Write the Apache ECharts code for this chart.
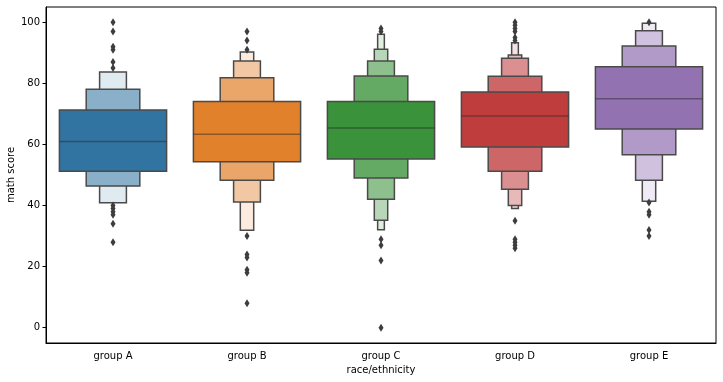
<!DOCTYPE html>
<html>
<head>
<meta charset="utf-8">
<script src="https://cdn.jsdelivr.net/npm/echarts@6/dist/echarts.min.js"></script>
<style>
html,body{margin:0;padding:0;background:#fff;}
#chart{width:723px;height:382px;}
</style>
</head>
<body>
<div id="chart"></div>
<script>
// ---- data (letter-value / boxen plot) ----
const categories = ['group A', 'group B', 'group C', 'group D', 'group E'];
const medians = [61, 63.3, 65.4, 69.3, 75];

// letter-value box bounds, innermost level first
const lowerA = [51.2, 46.4, 40.9];
const upperA = [71.3, 78.1, 83.7];
const lowerB = [54.3, 48.3, 41.2, 31.9];
const upperB = [74.1, 81.8, 87.3, 90.3];
const lowerC = [55.2, 49.0, 42.1, 35.2, 32.1];
const upperC = [74.1, 82.4, 87.3, 91.2, 96.1];
const lowerD = [59.2, 51.2, 45.3, 40.0, 39.0];
const upperD = [77.2, 82.3, 88.2, 89.3, 93.3];
const lowerE = [65.1, 56.6, 48.3, 41.4];
const upperE = [85.4, 92.2, 97.2, 99.7];

const outliersA = [100, 97, 92, 91, 87, 85, 40, 39, 38, 37, 34, 28];
const outliersB = [97, 94, 91, 30, 24, 23, 19, 18, 8];
const outliersC = [98, 97, 29, 27, 22, 0];
const outliersD = [100, 99, 98, 97, 95, 94, 35, 29, 28, 27, 26];
const outliersE = [100, 41, 38, 37, 32, 30];

const yTicks = [0, 20, 40, 60, 80, 100];

// ---- styling ----
const baseColors = ['#3274a1', '#e1812c', '#3a923a', '#c03d3e', '#9372b2'];
const edgeColor = '#4a4a4a';

const lowers = [lowerA, lowerB, lowerC, lowerD, lowerE];
const uppers = [upperA, upperB, upperC, upperD, upperE];
const outliers = [outliersA, outliersB, outliersC, outliersD, outliersE];

function hexToRgb(h) {
  return [parseInt(h.slice(1, 3), 16), parseInt(h.slice(3, 5), 16), parseInt(h.slice(5, 7), 16)];
}
function levelColor(gi, k, n) {
  const t = n > 1 ? 0.85 * k / (n - 1) : 0;
  const c = hexToRgb(baseColors[gi]);
  const m = c.map(v => Math.round(v + (255 - v) * t));
  return 'rgb(' + m.join(',') + ')';
}

// boxes: outermost drawn first so inner (wider) boxes sit on top
const boxData = [];
for (let g = 0; g < categories.length; g++) {
  const n = lowers[g].length;
  for (let k = n - 1; k >= 0; k--) {
    boxData.push([g, lowers[g][k], uppers[g][k], k, n]);
  }
}
const medianData = medians.map((m, g) => [g, m]);
const outlierData = [];
outliers.forEach((arr, g) => arr.forEach(v => outlierData.push([g, v])));

const chart = echarts.init(document.getElementById('chart'), null, { renderer: 'canvas' });

const option = {
  animation: false,
  backgroundColor: '#fff',
  textStyle: { fontFamily: 'DejaVu Sans', fontSize: 10, color: '#000' },
  grid: {
    left: 46, right: 7, top: 7, bottom: 39,
    containLabel: false,
    outerBoundsMode: 'none',
    show: true, borderColor: '#000', borderWidth: 1, backgroundColor: 'transparent'
  },
  xAxis: {
    type: 'category',
    data: categories,
    boundaryGap: true,
    name: 'race/ethnicity',
    nameLocation: 'middle',
    nameGap: 22,
    nameMoveOverlap: false,
    nameTextStyle: { fontFamily: 'DejaVu Sans', fontSize: 10, color: '#000' },
    axisLine: { onZero: false, lineStyle: { color: '#000', width: 1 } },
    axisTick: { alignWithLabel: true, length: 3.5, lineStyle: { color: '#000', width: 1 } },
    axisLabel: { margin: 8.5, fontFamily: 'DejaVu Sans', fontSize: 10, color: '#000' },
    splitLine: { show: false }
  },
  yAxis: {
    type: 'value',
    min: -5,
    max: 105,
    name: 'math score',
    nameLocation: 'middle',
    nameRotate: 90,
    nameGap: 30,
    nameMoveOverlap: false,
    nameTextStyle: { fontFamily: 'DejaVu Sans', fontSize: 10, color: '#000' },
    axisLine: { show: true, onZero: false, lineStyle: { color: '#000', width: 1 } },
    axisTick: { show: true, length: 3.5, customValues: yTicks, lineStyle: { color: '#000', width: 1 } },
    axisLabel: { margin: 6, customValues: yTicks, fontFamily: 'DejaVu Sans', fontSize: 10, color: '#000' },
    splitLine: { show: false }
  },
  series: [
    {
      type: 'custom',
      data: boxData,
      z: 2,
      renderItem: function (params, api) {
        const g = api.value(0);
        const lo = api.value(1);
        const hi = api.value(2);
        const k = api.value(3);
        const n = api.value(4);
        const band = api.size([1, 0])[0];
        const w = band * 0.8 * Math.pow(0.5, k);
        const pLo = api.coord([g, lo]);
        const pHi = api.coord([g, hi]);
        return {
          type: 'rect',
          shape: { x: pLo[0] - w / 2, y: pHi[1], width: w, height: pLo[1] - pHi[1] },
          style: { fill: levelColor(g, k, n), stroke: edgeColor, lineWidth: 1.5 }
        };
      }
    },
    {
      type: 'custom',
      data: medianData,
      z: 3,
      renderItem: function (params, api) {
        const g = api.value(0);
        const m = api.value(1);
        const band = api.size([1, 0])[0];
        const w = band * 0.8;
        const p = api.coord([g, m]);
        return {
          type: 'line',
          shape: { x1: p[0] - w / 2, y1: p[1], x2: p[0] + w / 2, y2: p[1] },
          style: { stroke: 'rgba(38,38,38,0.45)', lineWidth: 1.5 }
        };
      }
    },
    {
      type: 'scatter',
      data: outlierData,
      z: 4,
      symbol: 'diamond',
      symbolSize: [5, 8],
      itemStyle: { color: '#3d3d3d', opacity: 1 }
    }
  ]
};
chart.setOption(option);
</script>
</body>
</html>
